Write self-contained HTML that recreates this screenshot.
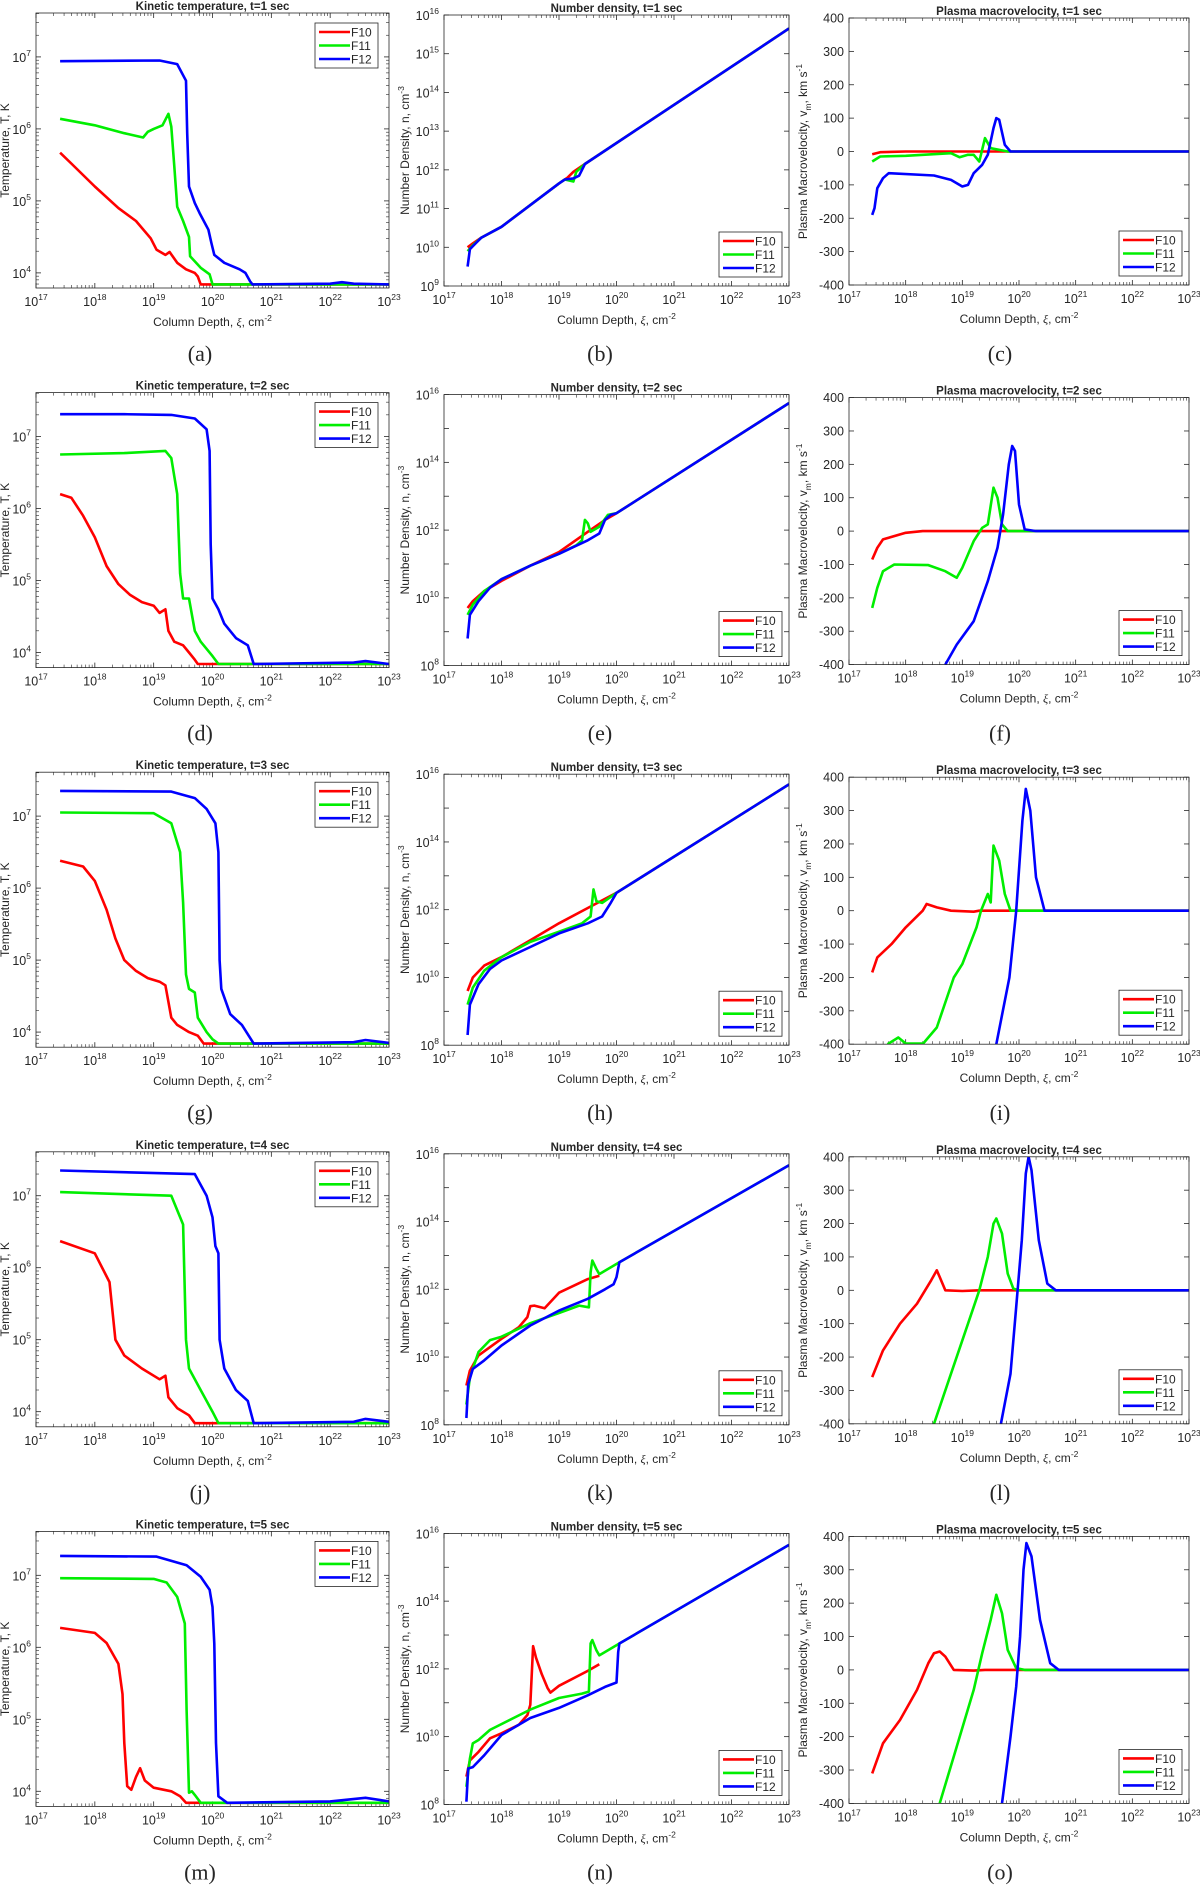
<!DOCTYPE html>
<html><head><meta charset="utf-8">
<style>
html,body{margin:0;padding:0;background:#fff;}
svg{display:block;}
text{font-family:"Liberation Sans",sans-serif;fill:#262626;}
</style></head>
<body>
<svg id="fig" width="1200" height="1891" viewBox="0 0 1200 1891" xmlns="http://www.w3.org/2000/svg"></svg>
<script>
// ---- data: [log10 column depth, value] ----
// Temperature (log10 T)
const T1_F10=[[17.41,5.67],[17.6,5.52],[18.0,5.2],[18.4,4.9],[18.7,4.72],[18.95,4.48],[19.05,4.32],[19.2,4.25],[19.27,4.29],[19.4,4.14],[19.55,4.05],[19.7,4.0],[19.75,3.95],[19.8,3.84],[23,3.84]];
const T1_F11=[[17.41,6.14],[18.0,6.05],[18.5,5.94],[18.82,5.88],[18.9,5.96],[19.0,6.0],[19.15,6.05],[19.25,6.21],[19.3,6.03],[19.35,5.48],[19.4,4.92],[19.5,4.72],[19.6,4.5],[19.62,4.23],[19.8,4.07],[19.95,3.98],[20.0,3.84],[23,3.84]];
const T1_F12=[[17.41,6.94],[19.1,6.95],[19.4,6.9],[19.55,6.67],[19.57,5.94],[19.6,5.2],[19.7,4.97],[19.78,4.83],[19.93,4.6],[19.98,4.42],[20.03,4.25],[20.2,4.14],[20.46,4.05],[20.56,4.0],[20.64,3.88],[20.68,3.84],[22.0,3.85],[22.2,3.87],[22.4,3.85],[23,3.84]];
const T2_F10=[[17.41,6.2],[17.6,6.15],[17.8,5.9],[18.0,5.6],[18.2,5.2],[18.4,4.95],[18.6,4.8],[18.8,4.7],[19.0,4.65],[19.1,4.55],[19.2,4.6],[19.25,4.3],[19.35,4.15],[19.5,4.1],[19.6,4.0],[19.7,3.9],[19.75,3.84],[23,3.84]];
const T2_F11=[[17.41,6.75],[18.5,6.77],[19.2,6.8],[19.3,6.7],[19.4,6.2],[19.45,5.1],[19.5,4.75],[19.6,4.75],[19.7,4.3],[19.8,4.15],[20.0,3.95],[20.1,3.84],[23,3.84]];
const T2_F12=[[17.41,7.31],[18.5,7.31],[19.3,7.3],[19.7,7.25],[19.9,7.1],[19.95,6.8],[19.97,5.5],[20.0,4.75],[20.1,4.6],[20.2,4.4],[20.4,4.2],[20.6,4.1],[20.7,3.84],[22.4,3.86],[22.6,3.88],[23,3.84]];
const T3_F10=[[17.41,6.38],[17.8,6.3],[18.0,6.1],[18.2,5.7],[18.35,5.3],[18.5,5.0],[18.7,4.85],[18.9,4.75],[19.1,4.7],[19.2,4.65],[19.3,4.2],[19.4,4.1],[19.6,4.0],[19.75,3.95],[19.85,3.84],[23,3.84]];
const T3_F11=[[17.41,7.05],[19.0,7.04],[19.3,6.9],[19.45,6.5],[19.5,5.8],[19.55,4.8],[19.6,4.6],[19.7,4.55],[19.75,4.2],[19.9,4.0],[20.0,3.9],[20.1,3.84],[23,3.84]];
const T3_F12=[[17.41,7.35],[19.3,7.34],[19.7,7.25],[19.9,7.1],[20.05,6.9],[20.1,6.5],[20.12,5.0],[20.15,4.6],[20.3,4.25],[20.5,4.1],[20.7,3.84],[22.4,3.86],[22.6,3.89],[23,3.85]];
const T4_F10=[[17.41,6.37],[18.0,6.2],[18.25,5.8],[18.35,5.0],[18.5,4.78],[18.8,4.6],[19.1,4.45],[19.2,4.5],[19.25,4.2],[19.4,4.05],[19.6,3.95],[19.7,3.84],[23,3.84]];
const T4_F11=[[17.41,7.05],[19.3,7.0],[19.5,6.6],[19.55,5.0],[19.6,4.6],[19.8,4.3],[20.0,4.0],[20.1,3.84],[23,3.84]];
const T4_F12=[[17.41,7.35],[19.7,7.3],[19.9,7.0],[20.0,6.7],[20.05,6.3],[20.1,6.2],[20.12,5.0],[20.2,4.6],[20.4,4.3],[20.6,4.15],[20.7,3.84],[22.4,3.86],[22.6,3.9],[23,3.86]];
const T5_F10=[[17.41,6.27],[18.0,6.2],[18.2,6.06],[18.4,5.77],[18.47,5.35],[18.5,4.67],[18.55,4.07],[18.62,4.02],[18.7,4.2],[18.77,4.32],[18.85,4.15],[19.0,4.05],[19.3,4.0],[19.45,3.93],[19.55,3.84],[23,3.84]];
const T5_F11=[[17.41,6.96],[19.0,6.95],[19.22,6.9],[19.4,6.7],[19.53,6.33],[19.56,5.13],[19.6,3.98],[19.65,4.0],[19.7,3.95],[19.8,3.84],[23,3.84]];
const T5_F12=[[17.41,7.27],[19.05,7.26],[19.56,7.14],[19.8,6.98],[19.95,6.8],[20.0,6.56],[20.03,6.05],[20.06,4.67],[20.1,3.93],[20.25,3.84],[22.0,3.86],[22.6,3.91],[23,3.86]];
// Number density (log10 n)
const N1_F10=[[17.41,10.0],[17.5,10.1],[17.65,10.25],[18,10.53],[19,11.65],[19.15,11.8],[19.25,11.95],[19.45,12.15],[23,15.65]];
const N1_F11=[[17.41,9.9],[17.5,10.05],[17.65,10.25],[18,10.53],[19,11.65],[19.1,11.75],[19.25,11.7],[19.3,11.95],[19.45,12.15],[23,15.65]];
const N1_F12=[[17.41,9.5],[17.45,9.95],[17.55,10.1],[17.65,10.25],[18,10.53],[19,11.65],[19.1,11.75],[19.25,11.78],[19.35,11.85],[19.45,12.15],[23,15.65]];
const N2_F10=[[17.41,9.7],[17.5,9.9],[17.7,10.2],[18,10.5],[18.5,10.95],[19,11.35],[19.5,11.95],[19.8,12.3],[20,12.5],[23,15.75]];
const N2_F11=[[17.41,9.5],[17.5,9.8],[17.7,10.2],[18,10.55],[18.5,10.95],[19,11.3],[19.3,11.55],[19.4,11.7],[19.45,12.3],[19.5,12.2],[19.55,11.95],[19.7,12.1],[19.85,12.45],[20,12.5],[23,15.75]];
const N2_F12=[[17.41,8.8],[17.45,9.5],[17.6,9.9],[17.8,10.3],[18,10.55],[18.5,10.95],[19,11.3],[19.5,11.7],[19.7,11.9],[19.8,12.3],[19.9,12.45],[20,12.5],[23,15.75]];
const N3_F10=[[17.41,9.6],[17.5,10.0],[17.7,10.35],[18,10.6],[18.5,11.1],[19,11.6],[19.5,12.05],[20,12.5],[23,15.7]];
const N3_F11=[[17.41,9.2],[17.5,9.7],[17.7,10.2],[18,10.6],[18.5,11.05],[19,11.35],[19.4,11.6],[19.55,11.8],[19.6,12.6],[19.65,12.25],[19.75,12.2],[20,12.5],[23,15.7]];
const N3_F12=[[17.41,8.3],[17.45,9.2],[17.6,9.8],[17.8,10.25],[18,10.5],[18.5,10.9],[19,11.3],[19.5,11.6],[19.75,11.8],[19.9,12.2],[20,12.5],[23,15.7]];
const N4_F10=[[17.39,9.16],[17.45,9.6],[17.6,10.05],[18.0,10.54],[18.3,10.88],[18.45,11.18],[18.5,11.5],[18.57,11.52],[18.75,11.44],[19.0,11.9],[19.5,12.3],[19.7,12.4]];
const N4_F11=[[17.39,8.6],[17.45,9.4],[17.6,10.15],[17.8,10.5],[18.0,10.6],[18.5,11.0],[19.0,11.3],[19.35,11.52],[19.52,11.47],[19.55,12.5],[19.58,12.85],[19.65,12.6],[19.7,12.45],[20.05,12.8],[23,15.66]];
const N4_F12=[[17.39,8.2],[17.42,9.2],[17.5,9.65],[17.7,9.9],[18,10.34],[18.5,10.93],[19.0,11.37],[19.5,11.72],[19.8,12.0],[19.95,12.15],[20.0,12.36],[20.05,12.8],[23,15.66]];
const N5_F10=[[17.39,8.82],[17.45,9.3],[17.6,9.55],[17.8,9.95],[18,10.1],[18.3,10.35],[18.45,10.64],[18.5,10.94],[18.55,12.67],[18.6,12.33],[18.7,11.84],[18.8,11.44],[18.85,11.3],[19.0,11.5],[19.5,11.94],[19.7,12.14]];
const N5_F11=[[17.39,8.52],[17.45,9.35],[17.5,9.8],[17.6,9.9],[17.8,10.2],[18.5,10.8],[19.0,11.14],[19.4,11.27],[19.52,11.33],[19.55,12.75],[19.58,12.85],[19.65,12.55],[19.7,12.4],[20.05,12.75],[23,15.66]];
const N5_F12=[[17.39,8.08],[17.42,9.06],[17.5,9.1],[17.7,9.45],[18.0,10.05],[18.5,10.55],[19.0,10.85],[19.5,11.22],[19.8,11.47],[20.0,11.6],[20.03,12.5],[20.05,12.75],[23,15.66]];
// Plasma macrovelocity (km/s)
const V1_F10=[[17.41,-8],[17.55,-2],[18,0],[23,0]];
const V1_F11=[[17.41,-30],[17.55,-15],[18,-13],[18.8,-5],[18.95,-17],[19.1,-10],[19.2,-10],[19.3,-30],[19.4,40],[19.5,10],[19.8,0],[23,0]];
const V1_F12=[[17.41,-190],[17.45,-170],[17.5,-110],[17.6,-80],[17.7,-65],[18.5,-72],[18.8,-85],[19.0,-105],[19.1,-100],[19.2,-65],[19.35,-40],[19.45,-10],[19.55,70],[19.6,100],[19.65,95],[19.75,20],[19.85,0],[23,0]];
const V2_F10=[[17.41,-85],[17.5,-50],[17.6,-25],[18,-5],[18.3,0],[23,0]];
const V2_F11=[[17.41,-230],[17.5,-170],[17.6,-120],[17.8,-100],[18.4,-102],[18.7,-120],[18.9,-140],[19.0,-110],[19.2,-30],[19.35,10],[19.45,20],[19.55,130],[19.62,100],[19.7,20],[19.8,0],[23,0]];
const V2_F12=[[18.7,-400],[18.9,-340],[19.2,-270],[19.45,-150],[19.62,-50],[19.72,50],[19.82,200],[19.88,255],[19.93,240],[20.0,80],[20.1,5],[20.3,0],[23,0]];
const V3_F10=[[17.41,-185],[17.5,-140],[17.75,-100],[18.0,-50],[18.3,0],[18.37,20],[18.55,10],[18.8,0],[19.2,-3],[19.3,0],[23,0]];
const V3_F11=[[17.68,-400],[17.87,-380],[18.0,-398],[18.31,-398],[18.55,-350],[18.85,-200],[19.0,-160],[19.25,-50],[19.33,0],[19.45,50],[19.5,25],[19.55,195],[19.65,150],[19.75,50],[19.85,0],[23,0]];
const V3_F12=[[19.6,-400],[19.83,-200],[19.95,0],[20.06,270],[20.12,365],[20.2,300],[20.3,100],[20.45,0],[23,0]];
const V4_F10=[[17.41,-260],[17.6,-180],[17.9,-100],[18.2,-40],[18.45,30],[18.55,60],[18.6,40],[18.7,0],[19.0,-2],[19.3,0],[23,0]];
const V4_F11=[[18.5,-400],[18.8,-250],[19.1,-100],[19.3,0],[19.45,100],[19.55,200],[19.6,215],[19.7,170],[19.8,50],[19.9,5],[20,0],[23,0]];
const V4_F12=[[19.68,-400],[19.85,-250],[19.95,-50],[20.05,150],[20.12,350],[20.17,400],[20.22,360],[20.35,150],[20.5,20],[20.65,0],[23,0]];
const V5_F10=[[17.41,-310],[17.6,-220],[17.9,-150],[18.2,-60],[18.4,20],[18.5,50],[18.6,55],[18.7,40],[18.85,0],[19.2,-2],[19.4,0],[23,0]];
const V5_F11=[[18.6,-400],[18.9,-230],[19.2,-60],[19.35,50],[19.5,150],[19.6,225],[19.7,170],[19.8,60],[19.95,5],[20.1,0],[23,0]];
const V5_F12=[[19.7,-400],[19.85,-200],[19.95,-50],[20.02,100],[20.08,300],[20.13,380],[20.22,340],[20.37,150],[20.55,20],[20.7,0],[23,0]];
const times=[1,2,3,4,5];
const letters=[["a","b","c"],["d","e","f"],["g","h","i"],["j","k","l"],["m","n","o"]];
const xTickExps=[17,18,19,20,21,22,23];
const seriesNames=["F10","F11","F12"];
const seriesColors=["#ff0000","#00ee00","#0000ff"];

const NS="http://www.w3.org/2000/svg";
const svg=document.getElementById("fig");
function mk(tag,attrs,parent){const e=document.createElementNS(NS,tag);for(const k in attrs)e.setAttribute(k,attrs[k]);(parent||svg).appendChild(e);return e;}
function pow10Label(parent,x,y,exp,anchor,name){
  const t=mk("text",{x:x,y:y,"font-size":"12.5","text-anchor":anchor},parent);
  
  
  const a=mk("tspan",{},t);a.textContent="10";
  const b=mk("tspan",{dy:"-6","font-size":"8.5"},t);b.textContent=String(exp);
  return t;
}
const ROW=379.6;
const TDATA=[T1_F10,T1_F11,T1_F12,T2_F10,T2_F11,T2_F12,T3_F10,T3_F11,T3_F12,T4_F10,T4_F11,T4_F12,T5_F10,T5_F11,T5_F12];
const NDATA=[N1_F10,N1_F11,N1_F12,N2_F10,N2_F11,N2_F12,N3_F10,N3_F11,N3_F12,N4_F10,N4_F11,N4_F12,N5_F10,N5_F11,N5_F12];
const VDATA=[V1_F10,V1_F11,V1_F12,V2_F10,V2_F11,V2_F12,V3_F10,V3_F11,V3_F12,V4_F10,V4_F11,V4_F12,V5_F10,V5_F11,V5_F12];

function panel(r,c){
  const off=r*ROW;
  let L,R,top,bot,y0,y1,kind;
  if(c===0){kind="T";L=36;R=389;top=13+off;bot=288+off;y0=3.79;y1=7.61;}
  else if(c===1){kind="N";L=444;R=789;top=15+off;bot=286+off;y0=r===0?9:8;y1=16;}
  else {kind="V";L=849;R=1189;top=18+off;bot=285+off;y0=-400;y1=400;}
  const g=mk("g",{});
  
  
  const xs=v=>L+(v-17)/6*(R-L);
  const ys=v=>bot-(v-y0)/(y1-y0)*(bot-top);
  mk("rect",{x:L,y:top,width:R-L,height:bot-top,fill:"#fff"},g);
  // x ticks
  for(const e of xTickExps){
    const x=xs(e);
    mk("line",{x1:x,y1:bot,x2:x,y2:bot-5,stroke:"#262626","stroke-width":"0.8"},g);
    mk("line",{x1:x,y1:top,x2:x,y2:top+5,stroke:"#262626","stroke-width":"0.8"},g);
    pow10Label(g,x,bot+18,e,"middle","x-tick-label");
    if(e<23)for(let m=2;m<10;m++){const xm=xs(e+Math.log10(m));
      mk("line",{x1:xm,y1:bot,x2:xm,y2:bot-3,stroke:"#262626","stroke-width":"0.6"},g);
      mk("line",{x1:xm,y1:top,x2:xm,y2:top+3,stroke:"#262626","stroke-width":"0.6"},g);}
  }
  // y ticks
  if(kind==="T"){
    for(let e=3;e<=7;e++){
      if(e>=4){const y=ys(e);
        mk("line",{x1:L,y1:y,x2:L+5,y2:y,stroke:"#262626","stroke-width":"0.8"},g);
        mk("line",{x1:R,y1:y,x2:R-5,y2:y,stroke:"#262626","stroke-width":"0.8"},g);
        pow10Label(g,L-5,y+5,e,"end","y-tick-label");}
      for(let m=2;m<10;m++){const v=e+Math.log10(m);if(v<y0||v>y1)continue;const y=ys(v);
        mk("line",{x1:L,y1:y,x2:L+3,y2:y,stroke:"#262626","stroke-width":"0.6"},g);
        mk("line",{x1:R,y1:y,x2:R-3,y2:y,stroke:"#262626","stroke-width":"0.6"},g);}
    }
  } else if(kind==="N"){
    for(let e=y0;e<=y1;e++){const y=ys(e);
      mk("line",{x1:L,y1:y,x2:L+5,y2:y,stroke:"#262626","stroke-width":"0.8"},g);
      mk("line",{x1:R,y1:y,x2:R-5,y2:y,stroke:"#262626","stroke-width":"0.8"},g);
      if(r===0||e%2===0)pow10Label(g,L-5,y+5,e,"end","y-tick-label");}
  } else {
    for(let v=-400;v<=400;v+=100){const y=ys(v);
      mk("line",{x1:L,y1:y,x2:L+5,y2:y,stroke:"#262626","stroke-width":"0.8"},g);
      mk("line",{x1:R,y1:y,x2:R-5,y2:y,stroke:"#262626","stroke-width":"0.8"},g);
      const t=mk("text",{x:L-5,y:y+4.5,"font-size":"12.5","text-anchor":"end"},g);
      
      
      t.textContent=String(v);}
  }
  // clip
  const cid="clip"+r+c;
  const cp=mk("clipPath",{id:cid},g);mk("rect",{x:L,y:top,width:R-L,height:bot-top},cp);
  const src=kind==="T"?TDATA:kind==="N"?NDATA:VDATA;
  for(let s=0;s<3;s++){
    const d=src[r*3+s];
    const p=mk("polyline",{points:d.map(q=>xs(q[0]).toFixed(1)+","+ys(q[1]).toFixed(1)).join(" "),fill:"none",stroke:seriesColors[s],"stroke-width":"2.6","stroke-linejoin":"round","clip-path":"url(#"+cid+")"},g);
    
    
  }
  mk("rect",{x:L,y:top,width:R-L,height:bot-top,fill:"none",stroke:"#262626","stroke-width":"0.8"},g);
  // legend
  let lx,ly;
  if(kind==="T"){lx=R-74;ly=top+10;}else{lx=R-70;ly=bot-54;}
  const lg=mk("g",{},g);
  
  
  mk("rect",{x:lx,y:ly,width:63,height:45,fill:"#fff",stroke:"#262626","stroke-width":"0.8"},lg);
  for(let s=0;s<3;s++){const yy=ly+9+s*13.5;
    mk("line",{x1:lx+4,y1:yy,x2:lx+35,y2:yy,stroke:seriesColors[s],"stroke-width":"2.6"},lg);
    const t=mk("text",{x:lx+36,y:yy+4.5,"font-size":"12"},lg);
    
    
    t.textContent=seriesNames[s];}
  // title
  const ttl=kind==="T"?"Kinetic temperature":kind==="N"?"Number density":"Plasma macrovelocity";
  const tt=mk("text",{x:(L+R)/2,y:top-3,"font-size":"11.5","font-weight":"bold","text-anchor":"middle"},g);
  
  
  tt.textContent=ttl+", t="+times[r]+" sec";
  // x label
  const xl=mk("text",{x:(L+R)/2,y:bot+38,"font-size":"12","text-anchor":"middle"},g);
  
  
  xl.innerHTML='Column Depth, <tspan font-family="Liberation Serif" font-style="italic">ξ</tspan>, cm<tspan dy="-5" font-size="8.5">-2</tspan>';
  // y label
  const yc=(top+bot)/2;
  const ylx=kind==="T"?9:kind==="N"?409:807;
  const yl=mk("text",{x:ylx,y:yc,"font-size":"12","text-anchor":"middle",transform:"rotate(-90 "+ylx+" "+yc+")"},g);
  
  
  if(kind==="T")yl.textContent="Temperature, T, K";
  else if(kind==="N")yl.innerHTML='Number Density, n, cm<tspan dy="-5" font-size="8.5">-3</tspan>';
  else yl.innerHTML='Plasma Macrovelocity, v<tspan dy="4" font-size="8.5">m</tspan><tspan dy="-4">, km s</tspan><tspan dy="-5" font-size="8.5">-1</tspan>';
  // panel letter
  const pl=mk("text",{x:[200,600,1000][c],y:off+361,"font-size":"22","text-anchor":"middle","font-family":"Liberation Serif"},g);
  
  
  pl.style.fontFamily='"Liberation Serif",serif';
  pl.textContent="("+letters[r][c]+")";
}
for(let r=0;r<5;r++)for(let c=0;c<3;c++)panel(r,c);
</script>
</body></html>
